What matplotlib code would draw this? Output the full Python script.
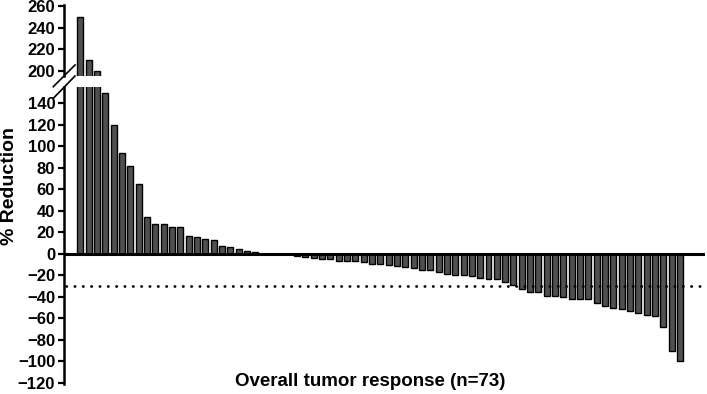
import numpy as np
import matplotlib.pyplot as plt
from matplotlib.lines import Line2D

plt.rcParams['font.family'] = ['Liberation Sans', 'DejaVu Sans']
plt.rcParams['font.weight'] = 'bold'

# % change per patient, sorted (waterfall)
reduction = [250, 210, 200, 150, 120, 94, 82, 65, 34, 28,
             28, 25, 25, 17, 16, 14, 13, 7, 6, 5,
             3, 2, 0, 0, 0, 0, -2, -3, -4, -5,
             -5, -7, -7, -7, -8, -9, -9, -10, -11, -12,
             -13, -15, -15, -17, -19, -20, -20, -21, -22, -23,
             -23, -26, -29, -33, -35, -35, -39, -39, -40, -42,
             -42, -42, -46, -48, -50, -51, -53, -55, -57, -58,
             -68, -90, -100]
lower_ticks = list(range(-120, 141, 20))
upper_ticks = [200, 220, 240, 260]
threshold = -30

W, H = 707, 394
fig = plt.figure(figsize=(W / 100, H / 100), dpi=100)

def frac(px_left, px_top, px_right, px_bottom):
    return [px_left / W, 1 - px_bottom / H, (px_right - px_left) / W, (px_bottom - px_top) / H]

ax_lo = fig.add_axes(frac(63.5, 86.7, 705, 384))
ax_hi = fig.add_axes(frac(63.5, 5, 705, 76), sharex=ax_lo)

x = np.arange(len(reduction))
for ax in (ax_lo, ax_hi):
    ax.bar(x, reduction, width=0.72, color='#505050', edgecolor='black', linewidth=1.0, zorder=2)
    for s in ('top', 'right', 'bottom'):
        ax.spines[s].set_visible(False)
    ax.spines['left'].set_linewidth(1.8)
    ax.tick_params(axis='y', direction='out', length=4, width=1.6, labelsize=12, pad=2)
    ax.tick_params(axis='x', bottom=False, labelbottom=False)

ax_lo.set_xlim(-2.04, 75.0)
ax_lo.set_ylim(-121, 155.5)
ax_hi.set_ylim(195, 261)
ax_lo.set_yticks(lower_ticks)
ax_hi.set_yticks(upper_ticks)
for ax in (ax_lo, ax_hi):
    for lab in ax.get_yticklabels():
        lab.set_fontweight('bold')

ax_lo.axhline(0, color='black', linewidth=2.2, zorder=3)
ax_lo.axhline(threshold, xmin=0.004, xmax=1, color='black', linewidth=2.0,
              linestyle=(0, (0.1, 2.9)), dash_capstyle='round', clip_on=False, zorder=3)

# break marks
for y0, y1 in ((86.7, 65), (98.3, 76)):
    fig.add_artist(Line2D([53.3 / W, 75 / W], [1 - y0 / H, 1 - y1 / H],
                          color='black', linewidth=1.2, transform=fig.transFigure))

fig.text(10 / W, 1 - 186 / H, '% Reduction', rotation=90, ha='center', va='center',
         fontsize=14, fontweight='bold')
fig.text(370 / W, 1 - 382 / H, 'Overall tumor response (n=73)', ha='center', va='center',
         fontsize=13.5, fontweight='bold')

fig.savefig('out.png', dpi=100)
